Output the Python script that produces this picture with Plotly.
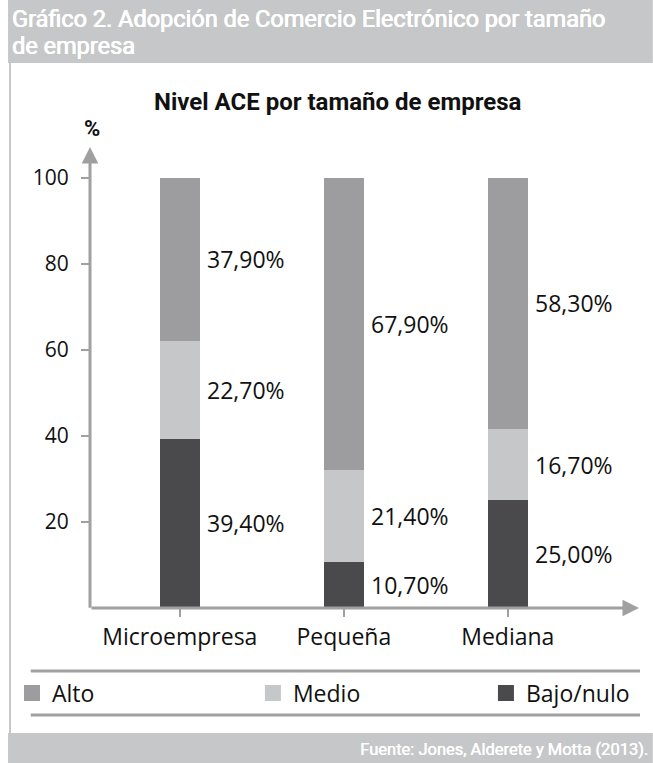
import plotly.graph_objects as go

categories = ["Microempresa", "Pequeña", "Mediana"]
bajo = [39.4, 10.7, 25.0]
medio = [22.7, 21.4, 16.7]
alto = [37.9, 67.9, 58.3]
series_names = ["Bajo/nulo", "Medio", "Alto"]
series_colors = ["#4a4a4c", "#c6c7c8", "#9d9d9f"]
y_ticks = [20, 40, 60, 80, 100]

W, H = 653, 763
L, R, T, B = 83, 14, 147, 155
PW, PH = W - L - R, H - T - B

def px(x):
    return (x - L) / PW

def py(y):
    return (H - B - y) / PH

FONT = "Open Sans"
GRAY = "#a0a0a0"
BAND = "#c6c7c8"

xs = list(range(len(categories)))
fig = go.Figure()
series_vals = [bajo, medio, alto]
for name, vals, col in zip(series_names, series_vals, series_colors):
    fig.add_trace(go.Bar(x=xs, y=vals, name=name, marker=dict(color=col, line=dict(width=0)),
                         width=0.247, showlegend=False))

# legend entries
legend_keys = {"Alto": "legend", "Medio": "legend2", "Bajo/nulo": "legend3"}
for name, col in zip(series_names, series_colors):
    fig.add_trace(go.Scatter(x=[None], y=[None], mode="markers", name=name,
                             marker=dict(symbol="square", size=16, color=col),
                             legend=legend_keys[name]))

# value labels
annots = []
for i in xs:
    base = 0
    for vals in series_vals:
        v = vals[i]
        annots.append(dict(x=i, y=base + v / 2, xref="x", yref="y", text=f"{v:.2f}%".replace(".", ","),
                           showarrow=False, xanchor="left", yanchor="middle", xshift=25,
                           font=dict(family=FONT, size=23, color="#111")))
        base += v

# axis arrows
annots.append(dict(x=2.80, y=0, ax=-0.548, ay=0, xref="x", yref="y", axref="x", ayref="y",
                   text="", showarrow=True, arrowhead=2, arrowsize=1.1, arrowwidth=3,
                   arrowcolor=GRAY, standoff=0, startstandoff=0))
annots.append(dict(x=-0.548, y=107.2, ax=-0.548, ay=-0.3, xref="x", yref="y", axref="x", ayref="y",
                   text="", showarrow=True, arrowhead=2, arrowsize=1.1, arrowwidth=3,
                   arrowcolor=GRAY, standoff=0, startstandoff=0))

# texts
header_lines = ["Gráfico 2. Adopción de Comercio Electrónico por tamaño", "de empresa"]
for line, yc in zip(header_lines, [19, 46]):
    annots.append(dict(x=px(2), y=py(yc), xref="paper", yref="paper", xanchor="left", yanchor="middle",
                       text=line, showarrow=False, align="left",
                       font=dict(family="Roboto", size=23.5, color="white",
                                 shadow="0.5px 0 0 white, -0.3px 0 0 white")))
annots.append(dict(x=px(334), y=py(102), xref="paper", yref="paper", xanchor="center", yanchor="middle",
                   text="<b>Nivel ACE por tamaño de empresa</b>", showarrow=False,
                   font=dict(family="Roboto", size=24, color="#111")))
annots.append(dict(x=px(85), y=py(128), xref="paper", yref="paper", xanchor="center", yanchor="middle",
                   text="<b>%</b>", showarrow=False, font=dict(family="Roboto", size=22, color="#111")))
annots.append(dict(x=px(650), y=py(749), xref="paper", yref="paper", xanchor="right", yanchor="middle",
                   text="Fuente: Jones, Alderete y Motta (2013).", showarrow=False,
                   font=dict(family="Roboto", size=16.5, color="white",
                             shadow="0.5px 0 0 white")))

shapes = [
    dict(type="rect", xref="paper", yref="paper", x0=px(0), x1=px(W), y0=py(0), y1=py(63),
         fillcolor=BAND, line=dict(width=0), layer="below"),
    dict(type="rect", xref="paper", yref="paper", x0=px(0), x1=px(W), y0=py(733), y1=py(H),
         fillcolor=BAND, line=dict(width=0), layer="below"),
    dict(type="line", xref="paper", yref="paper", x0=px(2), x1=px(2), y0=py(63), y1=py(733),
         line=dict(color=BAND, width=2)),
    dict(type="line", xref="paper", yref="paper", x0=px(23), x1=px(640), y0=py(671), y1=py(671),
         line=dict(color=GRAY, width=3)),
    dict(type="line", xref="paper", yref="paper", x0=px(23), x1=px(640), y0=py(715), y1=py(715),
         line=dict(color=GRAY, width=3)),
]

leg_common = dict(orientation="h", yanchor="middle", y=py(693), xanchor="left",
                  font=dict(family=FONT, size=23, color="#111"), bgcolor="rgba(0,0,0,0)",
                  itemsizing="trace", tracegroupgap=0)

fig.update_layout(
    width=W, height=H, margin=dict(l=L, r=R, t=T, b=B),
    paper_bgcolor="white", plot_bgcolor="white", barmode="stack",
    annotations=annots, shapes=shapes,
    legend=dict(x=px(4), **leg_common),
    legend2=dict(x=px(248), **leg_common),
    legend3=dict(x=px(484), **leg_common),
    xaxis=dict(range=[-0.548, 2.80], tickvals=xs, ticktext=categories, showline=False,
               showgrid=False, zeroline=False, ticks="outside", ticklen=8, tickwidth=2,
               tickcolor=GRAY, tickfont=dict(family=FONT, size=23, color="#111")),
    yaxis=dict(range=[0, 107.2], tickvals=y_ticks, showline=False, showgrid=False, zeroline=False,
               ticks="outside", ticklen=8, tickwidth=2, tickcolor=GRAY, ticklabelstandoff=8,
               tickfont=dict(family=FONT, size=21, color="#111")),
)

fig.write_html("out.html", config={"displayModeBar": False},
               post_script="document.body.style.margin='0';document.body.style.padding='0';")
